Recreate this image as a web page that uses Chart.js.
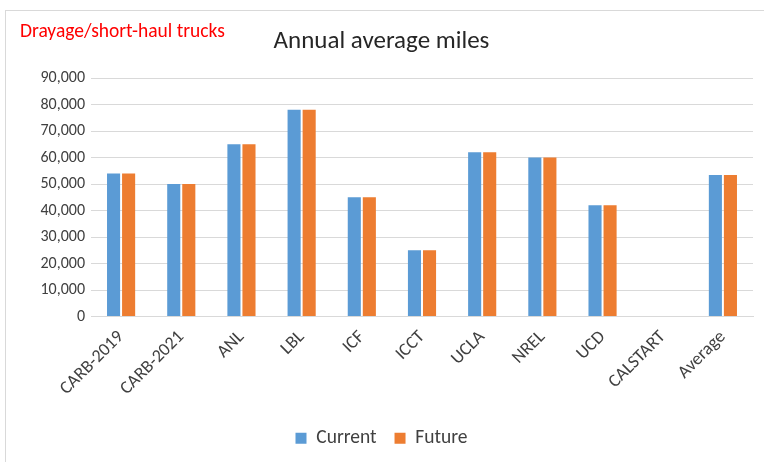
<!DOCTYPE html>
<html>
<head>
<meta charset="utf-8">
<script src="https://cdn.jsdelivr.net/npm/chart.js@4.4.1/dist/chart.umd.min.js"></script>
<style>
  html, body { margin: 0; padding: 0; background: #fff; }
  #wrap { position: relative; width: 764px; height: 462px; overflow: hidden; }
  #frame { position: absolute; left: 5px; top: 10px; width: 780px; height: 470px; border: 1px solid #d9d9d9; box-sizing: border-box; }
  #note { position: absolute; left: 20px; top: 18px; color: #ff0000; font: 19.5px Carlito, Lato, sans-serif; }
  #chart { position: absolute; left: 0; top: 0; }
</style>
</head>
<body>
<div id="wrap">
  <div id="frame"></div>
  <canvas id="chart" width="764" height="462"></canvas>
  <div id="note">Drayage/short-haul trucks</div>
</div>
<script>
var categories = ['CARB-2019', 'CARB-2021', 'ANL', 'LBL', 'ICF', 'ICCT', 'UCLA', 'NREL', 'UCD', 'CALSTART', 'Average'];
var current = [54000, 50000, 65000, 78000, 45000, 25000, 62000, 60000, 42000, null, 53400];
var future = [54000, 50000, 65000, 78000, 45000, 25000, 62000, 60000, 42000, null, 53400];
var yTicks = [0, 10000, 20000, 30000, 40000, 50000, 60000, 70000, 80000, 90000];

var fontFamily = 'Carlito, Lato, sans-serif';

var chart = new Chart(document.getElementById('chart'), {
	type: 'bar',
	data: {
		labels: categories,
		datasets: [{
			label: 'Current',
			data: current,
			backgroundColor: '#5B9BD5'
		}, {
			label: 'Future',
			data: future,
			backgroundColor: '#ED7D31'
		}]
	},
	options: {
		responsive: false,
		animation: false,
		devicePixelRatio: 1,
		layout: { padding: { left: 10, right: 11, top: 0, bottom: 4 } },
		categoryPercentage: 0.5,
		barPercentage: 0.87,
		plugins: {
			title: {
				display: true,
				text: 'Annual average miles',
				color: '#262626',
				font: { family: fontFamily, size: 25, weight: 'normal' },
				padding: { top: 27, bottom: 21 }
			},
			legend: {
				position: 'bottom',
				labels: {
					color: '#404040',
					font: { family: fontFamily, size: 19.5 },
					boxWidth: 11,
					boxHeight: 11,
					padding: 18
				}
			},
			tooltip: { enabled: false }
		},
		scales: {
			x: {
				grid: { display: false },
				border: { color: '#d9d9d9' },
				ticks: {
					color: '#404040',
					font: { family: fontFamily, size: 18 },
					minRotation: 45,
					maxRotation: 45,
					padding: 2
				},
				afterFit: function (scale) { scale.height = 94; }
			},
			y: {
				min: 0,
				max: 90000,
				afterBuildTicks: function (scale) {
					scale.ticks = yTicks.map(function (v) { return { value: v }; });
				},
				grid: { color: '#d9d9d9', drawTicks: false },
				border: { display: false },
				ticks: {
					color: '#404040',
					font: { family: fontFamily, size: 16 },
					padding: 6,
					callback: function (v) { return v.toLocaleString('en-US'); }
				},
				afterFit: function (scale) { scale.width = 81; }
			}
		}
	}
});
</script>
</body>
</html>
